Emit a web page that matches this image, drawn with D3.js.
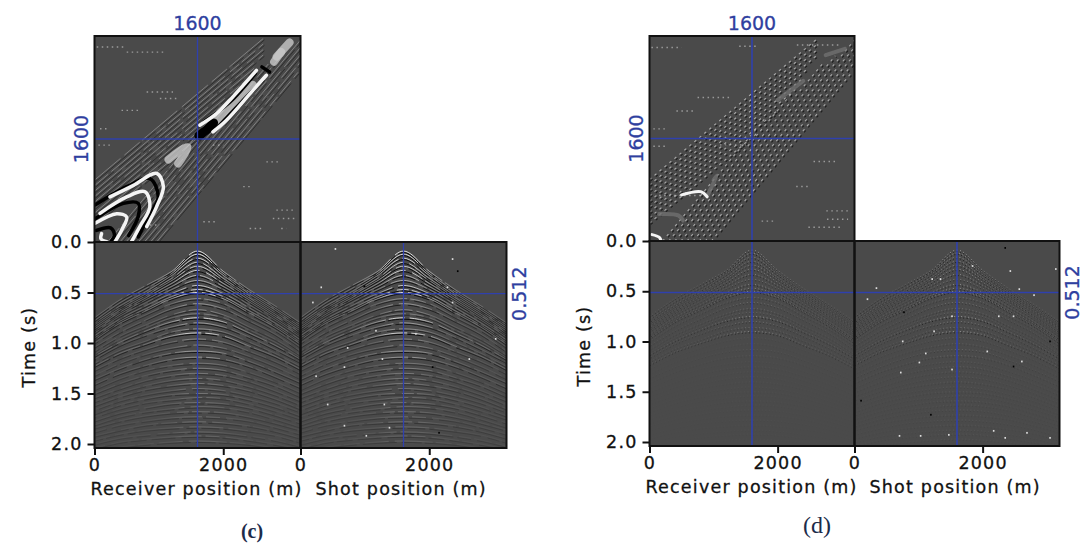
<!DOCTYPE html>
<html><head><meta charset="utf-8">
<script src="https://cdn.jsdelivr.net/npm/d3@7/dist/d3.min.js"></script>
<style>
html,body{margin:0;padding:0;background:#fff}
svg{display:block}
text{font-family:"DejaVu Sans",sans-serif}
.lab{font-size:17.5px;letter-spacing:1.2px;fill:#111;stroke:#111;stroke-width:.3px}
.blue{font-size:19px;fill:#2f3f9f;stroke:#2f3f9f;stroke-width:.3px}
</style></head><body>
<svg id="c" width="1090" height="550"></svg>
<script>
const positionTicks=[0,2000];
const timeTicks=[0,0.5,1,1.5,2];
const crossPosition=1600, crossTime=0.512;
const stationAxis=[0,400,800,1200,1600,2000,2400,2800,3200];
// event arrival times (s) read at each station
const eventTimes=[
[.75,.57,.43,.29,.09,.29,.47,.63,.80],[.78,.60,.46,.31,.12,.31,.49,.65,.82],[.80,.63,.49,.33,.16,.33,.51,.67,.84],
[.82,.65,.51,.36,.20,.36,.53,.69,.86],[.84,.67,.53,.38,.24,.38,.55,.71,.88],[.86,.69,.55,.41,.28,.41,.57,.73,.90],
[.88,.71,.57,.44,.33,.44,.59,.75,.92],[.90,.73,.60,.47,.38,.47,.62,.77,.94],[.93,.76,.63,.51,.43,.51,.65,.80,.97],
[.95,.78,.66,.54,.47,.54,.68,.82,.99],[.97,.80,.68,.56,.50,.56,.70,.84,1.01],[1.00,.84,.72,.61,.56,.61,.74,.87,1.04],
[1.04,.89,.77,.66,.61,.66,.78,.91,1.08],[1.08,.93,.82,.72,.67,.72,.84,.96,1.12],[1.11,.96,.85,.75,.71,.75,.87,.99,1.14],
[1.13,.99,.88,.79,.75,.79,.90,1.02,1.16],[1.16,1.02,.92,.84,.80,.84,.94,1.06,1.19],[1.20,1.07,.98,.89,.86,.89,.99,1.10,1.23],
[1.23,1.10,1.01,.93,.90,.93,1.03,1.13,1.26],[1.27,1.15,1.06,.99,.96,.99,1.08,1.18,1.30],[1.32,1.20,1.11,1.05,1.02,1.05,1.13,1.23,1.35],
[1.36,1.25,1.16,1.10,1.08,1.10,1.18,1.28,1.39],[1.41,1.30,1.22,1.16,1.14,1.16,1.23,1.33,1.44],[1.46,1.35,1.27,1.22,1.20,1.22,1.29,1.38,1.49],
[1.50,1.40,1.32,1.27,1.25,1.27,1.34,1.42,1.53],[1.54,1.45,1.37,1.32,1.30,1.32,1.38,1.47,1.57],[1.58,1.49,1.42,1.37,1.35,1.37,1.43,1.51,1.61],
[1.62,1.53,1.46,1.42,1.40,1.42,1.47,1.55,1.65],[1.66,1.57,1.51,1.47,1.45,1.47,1.52,1.59,1.68],[1.70,1.61,1.55,1.51,1.50,1.51,1.56,1.63,1.72],
[1.73,1.65,1.59,1.56,1.54,1.55,1.60,1.67,1.75],[1.77,1.69,1.64,1.60,1.59,1.60,1.64,1.71,1.79],[1.81,1.73,1.68,1.65,1.63,1.64,1.68,1.75,1.83],
[1.84,1.77,1.72,1.69,1.68,1.69,1.73,1.79,1.86],[1.88,1.81,1.77,1.74,1.73,1.74,1.77,1.83,1.90],[1.92,1.86,1.81,1.79,1.78,1.79,1.82,1.87,1.94],
[1.96,1.90,1.86,1.84,1.83,1.84,1.87,1.91,1.98],[2.00,1.94,1.91,1.89,1.88,1.89,1.92,1.96,2.02],[2.04,1.98,1.95,1.93,1.92,1.93,1.96,2.00,2.05],
[2.08,2.03,2.00,1.98,1.97,1.98,2.00,2.04,2.09]];
const eventStrength=[1,.95,.9,.8,.8,.85,.7,.6,.8,.85,1,.45,.5,.4,.35,.95,.55,.45,.9,.4,.35,.55,.5,.3,.35,.3,.28,.3,.25,.28,.22,.26,.22,.25,.22,.25,.22,.2,.2,.18];
// diagonal stripes in the cross-gather: [receiver, shot, receiver, shot]
const stripes=[
[0,960,2620,3160],[0,875,2620,3075],[0,790,2620,2990],[0,705,2620,2905],[0,620,2480,2700],[0,535,2380,2530],[0,450,2200,2300],[0,365,2000,2040],[0,280,1700,1700],
[965,0,3160,2635],[870,0,3200,2796],[775,0,3200,2910],[680,0,3200,3024],[585,0,3200,3138],[490,0,2900,2892],[395,0,2700,2766],[300,0,2300,2400],[205,0,1800,1910]];
// bright and dark ridges in the cross-gather of panel (c)
const brightRidges=[
[[240,700],[605,880],[965,1065],[1070,860],[965,550],[810,240]],
[[85,445],[500,700],[785,780],[860,550],[705,240],[575,5]],
[[10,290],[345,440],[500,390],[425,190],[320,5]],
[[110,130],[100,50],[190,5]],
[[1840,1710],[2050,1890],[2460,2355],[2670,2590]],
[[1635,1815],[1895,1995],[2150,2255],[2515,2665]]];
const softRidges=[[[1895,1900],[2200,2180],[2460,2440]],[[2830,2880],[3030,3100]],[[1150,1280],[1330,1420],[1450,1470],[1300,1220]],[[2790,2800],[2900,2950]]];
const darkRidges=[
[[10,575],[500,860],[860,985],[990,700],[835,390],[680,80]],
[[10,360],[450,600],[680,600],[680,400],[530,100]],
[[30,180],[250,220],[310,110],[250,0]],
[[1895,1760],[2260,2150],[2615,2510]],
[[1700,1870],[2100,2170],[2500,2620]],
[[2600,2720],[2720,2640]]];
const darkBlobs=[[[1620,1650],[1750,1750],[1850,1850]]];
// dotted rows: [receiver start, receiver end, shot]
const dottedRows=[[35,500,3030],[500,1120,2950],[810,1220,2330],[1015,1325,2230],[420,705,2045],[85,240,1760],[60,265,1505],
[2670,2850,1245],[2310,2460,860],[2825,3135,495],[2770,3135,365],[2410,2620,210],[2900,2980,210],[1690,1890,315],[860,965,265],[1840,2000,1505]];
const dottedRowsD=[[30,500,3020],[750,1290,2240],[420,720,2030],[60,250,1750],[60,250,1480],[2560,2950,1240],[2290,2500,850],
[2760,3100,470],[2770,3100,340],[2480,2980,215],[1750,1930,310],[1100,1500,1500],[150,800,710],[1400,1700,3040],[2300,3000,3060]];
const brightRidgesD=[[[500,720],[800,770],[900,690]],[[40,100],[150,60],[180,10]]];
const softRidgesD=[[[150,420],[450,400],[520,320]],[[1000,950],[1050,1020],[900,700]],[[2000,2200],[2400,2500]],[[2750,2900],[3050,3000]]];
const speckleC=[[180,.59],[310,.44],[530,.06],[2350,.16],[2430,.28],[3020,.95],[670,1.23],[1010,1.91],[1370,1.83],[2140,1.88],[670,1.81],[1260,1.15],[720,1.04],[2610,1.15],[2040,1.23],[230,1.32],[1290,1.6],[410,1.6],[2350,.59],[980,.43],[2270,.44],[1160,.87],[1780,.9]];
const speckleD=[[1830,.24],[2420,.29],[1230,.89],[1510,1.27],[1180,1.72],[1020,1.93],[690,1.93],[2340,1.95],[2160,1.88],[2470,1.24],[2600,1.19],[1000,1.2],[1100,1.11],[740,.99],[3040,.99],[2790,.53],[2560,.47],[330,.46],[190,.57],[2340,.06],[3130,.27],[1510,.74],[2470,.74],[2240,.74],[760,.7],[1200,.37],[1330,.37],[2060,1.09],[710,1.3],[90,1.58],[1460,1.92],[2680,1.9],[3040,1.95]];

const svg=d3.select('#c');
const defs=svg.append('defs');
defs.append('filter').attr('id','soft').append('feGaussianBlur').attr('stdDeviation',.7);
let uid=0;
const BG='#4a4a4a', BLUE='#2f40ad';
const breaks=['34 5 20 3 46 6','18 4 52 7 12 3','60 4 14 6 28 3','24 6 38 3 16 5'];

function clip(x,y,w,h){const id='clip'+(uid++);defs.append('clipPath').attr('id',id).append('rect').attr('x',x).attr('y',y).attr('width',w).attr('height',h);return `url(#${id})`;}
function grad(color,x0,x1,edge){const id='g'+(uid++);const g=defs.append('linearGradient').attr('id',id).attr('gradientUnits','userSpaceOnUse').attr('x1',x0).attr('x2',x1).attr('y1',0).attr('y2',0);
 [[0,edge],[.25,edge+.08],[.38,edge+.3],[.44,.9],[.5,1],[.57,.9],[.65,edge+.3],[.78,edge+.08],[1,edge]].forEach(s=>g.append('stop').attr('offset',s[0]).attr('stop-color',color).attr('stop-opacity',s[1]));return `url(#${id})`;}

function gather(p,x0,o){
 const x=d3.scaleLinear([0,3200],[x0,x0+p.w]);
 const y=d3.scaleLinear([0,2],[p.t0,p.t2]);
 const g=svg.append('g').attr('clip-path',clip(x0,p.t0,p.w,p.w));
 g.append('rect').attr('x',x0).attr('y',p.t0).attr('width',p.w).attr('height',p.w).attr('fill',BG);
 const line=(d)=>d3.line().x((_,i)=>x(stationAxis[i])).y(v=>y(v+d)).curve(d3.curveCatmullRom);
 const white=grad('#fff',x0,x0+p.w,o.edge), black=grad('#000',x0,x0+p.w,Math.min(1,o.edge+.35));
 const gain=i=>eventStrength[i]*o.gain*(i>=o.deepFrom?o.deep:1);
 const dash=(i)=>o.dash||breaks[i%breaks.length];
 const ev=g.selectAll(null).data(eventTimes).enter();
 ev.append('path').attr('d',line(.014)).attr('fill','none').attr('stroke',black).attr('stroke-width',.9)
   .attr('stroke-opacity',(_,i)=>Math.min(1,gain(i)*1.5)).attr('stroke-dasharray',(_,i)=>dash(i+1)).attr('stroke-dashoffset',(_,i)=>i*13);
 ev.append('path').attr('d',line(0)).attr('fill','none').attr('stroke',white).attr('stroke-width',.9)
   .attr('stroke-opacity',(_,i)=>gain(i)).attr('stroke-dasharray',(_,i)=>dash(i)).attr('stroke-dashoffset',(_,i)=>i*29);
 g.selectAll(null).data(o.speckle).enter().append('rect')
   .attr('x',d=>x(d[0])).attr('y',d=>y(d[1])).attr('width',1.6).attr('height',1.8)
   .attr('fill',(d,i)=>i%5==4?'#000':'#ddd');
 return {x,y};
}
function crossGather(p,o){
 const x=d3.scaleLinear([0,3200],[p.x0,p.x0+p.w]);
 const y=d3.scaleLinear([0,3200],[p.t0,p.top]);
 const g=svg.append('g').attr('clip-path',clip(p.x0,p.top,p.w,p.w));
 g.append('rect').attr('x',p.x0).attr('y',p.top).attr('width',p.w).attr('height',p.w).attr('fill',BG);
 const seg=g.selectAll(null).data(stripes).enter();
 seg.append('line').attr('x1',d=>x(d[0])+1.3).attr('y1',d=>y(d[1])+1.3).attr('x2',d=>x(d[2])+1.3).attr('y2',d=>y(d[3])+1.3)
   .attr('stroke','#111').attr('stroke-width',o.sw).attr('stroke-opacity',o.stripe+.15).attr('stroke-dasharray',(_,i)=>o.dash||breaks[(i+2)%4]);
 seg.append('line').attr('x1',d=>x(d[0])).attr('y1',d=>y(d[1])).attr('x2',d=>x(d[2])).attr('y2',d=>y(d[3]))
   .attr('stroke','#ddd').attr('stroke-width',o.sw).attr('stroke-opacity',o.stripe).attr('stroke-dasharray',(_,i)=>o.dash||breaks[i%4]);
 const rows=g.selectAll(null).data(o.rows).enter();
 rows.append('line').attr('x1',d=>x(d[0])).attr('x2',d=>x(d[1])).attr('y1',d=>y(d[2])).attr('y2',d=>y(d[2]))
   .attr('stroke','#dcdcdc').attr('stroke-width',1.4).attr('stroke-dasharray','1.5 3.5').attr('stroke-opacity',.55);
 const curve=d3.line().x(d=>x(d[0])).y(d=>y(d[1])).curve(d3.curveCatmullRom);
 const blobs=g.append('g').attr('filter','url(#soft)');
 const draw=(data,color,w,op)=>blobs.selectAll(null).data(data).enter().append('path').attr('d',curve).attr('fill','none')
   .attr('stroke',color).attr('stroke-width',w).attr('stroke-linecap','round').attr('stroke-opacity',op);
 draw(o.soft,o.softColor,o.softW,.8);
 draw(o.blobs,'#050505',9,1);
 draw(o.dark,'#050505',o.wd,1);
 draw(o.bright,'#f4f4f4',o.wb,1);
 return {x,y};
}
function axisText(sel){sel.select('.domain').remove();
 sel.selectAll('.tick line').attr('stroke','#111').attr('stroke-width',2);
 sel.selectAll('.tick text').attr('class','lab').style('font-family','"DejaVu Sans",sans-serif');}

function figure(p,o){
 const rr=p.x0+p.w;
 const a=gather(p,p.x0,{edge:o.edge,gain:o.gain,dash:o.dash,deepFrom:o.deepFrom,deep:o.deepLeft,speckle:[]});
 const b=gather(p,rr,{edge:o.edge,gain:o.gain*(o.rightGain||1),dash:o.dash,deepFrom:o.deepFrom,deep:o.deepRight,speckle:o.speckle});
 const t=crossGather(p,o.cross);
 const bl=(x1,y1,x2,y2)=>svg.append('line').attr('x1',x1).attr('y1',y1).attr('x2',x2).attr('y2',y2).attr('stroke',BLUE).attr('stroke-width',o.cw);
 bl(t.x(crossPosition),p.top,t.x(crossPosition),p.top+2*p.w);
 bl(b.x(crossPosition),p.t0,b.x(crossPosition),p.top+2*p.w);
 bl(p.x0,t.y(crossPosition),rr,t.y(crossPosition));
 bl(p.x0,a.y(crossTime),rr+p.w,a.y(crossTime));
 const fr=(x,y,w,h)=>svg.append('rect').attr('x',x).attr('y',y).attr('width',w).attr('height',h).attr('fill','none').attr('stroke','#111').attr('stroke-width',2);
 fr(p.x0,p.top,p.w,p.w);fr(p.x0,p.top+p.w,p.w,p.w);fr(rr,p.top+p.w,p.w,p.w);
 const bottom=p.top+2*p.w;
 const fmt=d3.format('d');
 svg.append('g').attr('transform',`translate(0,${bottom})`).call(d3.axisBottom(a.x).tickValues(positionTicks).tickFormat(fmt).tickSize(7).tickPadding(4)).call(axisText);
 svg.append('g').attr('transform',`translate(0,${bottom})`).call(d3.axisBottom(b.x).tickValues(positionTicks).tickFormat(fmt).tickSize(7).tickPadding(4)).call(axisText);
 svg.append('g').attr('transform',`translate(${p.x0},0)`).call(d3.axisLeft(a.y).tickValues(timeTicks).tickFormat(d3.format('.1f')).tickSize(7).tickPadding(5)).call(axisText);
 svg.append('text').attr('class','lab').attr('x',p.x0-4).attr('y',bottom+47).text('Receiver position (m)');
 svg.append('text').attr('class','lab').attr('x',rr+15).attr('y',bottom+47).text('Shot position (m)');
 svg.append('text').attr('class','lab').attr('text-anchor','middle').attr('transform',`translate(${p.x0-60},${p.t0+105}) rotate(-90)`).text('Time (s)');
 svg.append('text').attr('class','blue').attr('text-anchor','middle').attr('x',t.x(crossPosition)).attr('y',p.top-6).text(crossPosition);
 svg.append('text').attr('class','blue').attr('text-anchor','middle').attr('transform',`translate(${p.x0-7},${t.y(crossPosition)}) rotate(-90)`).text(crossPosition);
 svg.append('text').attr('class','blue').attr('text-anchor','middle').attr('transform',`translate(${rr+p.w+19},${a.y(crossTime)}) rotate(-90)`).text(crossTime);
}
figure({x0:94.5,top:36,w:206,t0:242,t2:444},{edge:.18,gain:.95,dash:null,deepFrom:40,deepLeft:1,deepRight:1,cw:1.3,speckle:speckleC,
 cross:{stripe:.42,sw:.9,dash:null,rows:dottedRows,bright:brightRidges,dark:darkRidges,blobs:darkBlobs,soft:softRidges,softColor:'#c8c8c8',softW:8,wb:3.5,wd:3.5}});
figure({x0:649.5,top:36,w:205,t0:241,t2:442},{edge:.22,gain:.42,rightGain:1.2,dash:'1 2.5',deepFrom:19,deepLeft:.3,deepRight:.65,cw:1.6,speckle:speckleD,
 cross:{stripe:.65,sw:1.1,dash:'2.5 4',rows:dottedRowsD,bright:brightRidgesD,dark:[],blobs:[],soft:softRidgesD,softColor:'#707070',softW:4,wb:3,wd:3}});
svg.append('text').attr('x',252).attr('y',538).attr('text-anchor','middle').style('font-family','"Liberation Serif",serif').style('font-weight','bold').style('font-size','20px').attr('fill','#1c2b4a').text('(c)');
svg.append('text').attr('x',817).attr('y',533).attr('text-anchor','middle').style('font-family','"Liberation Serif",serif').style('font-size','24px').attr('fill','#1c2b4a').text('(d)');
</script></body></html>
